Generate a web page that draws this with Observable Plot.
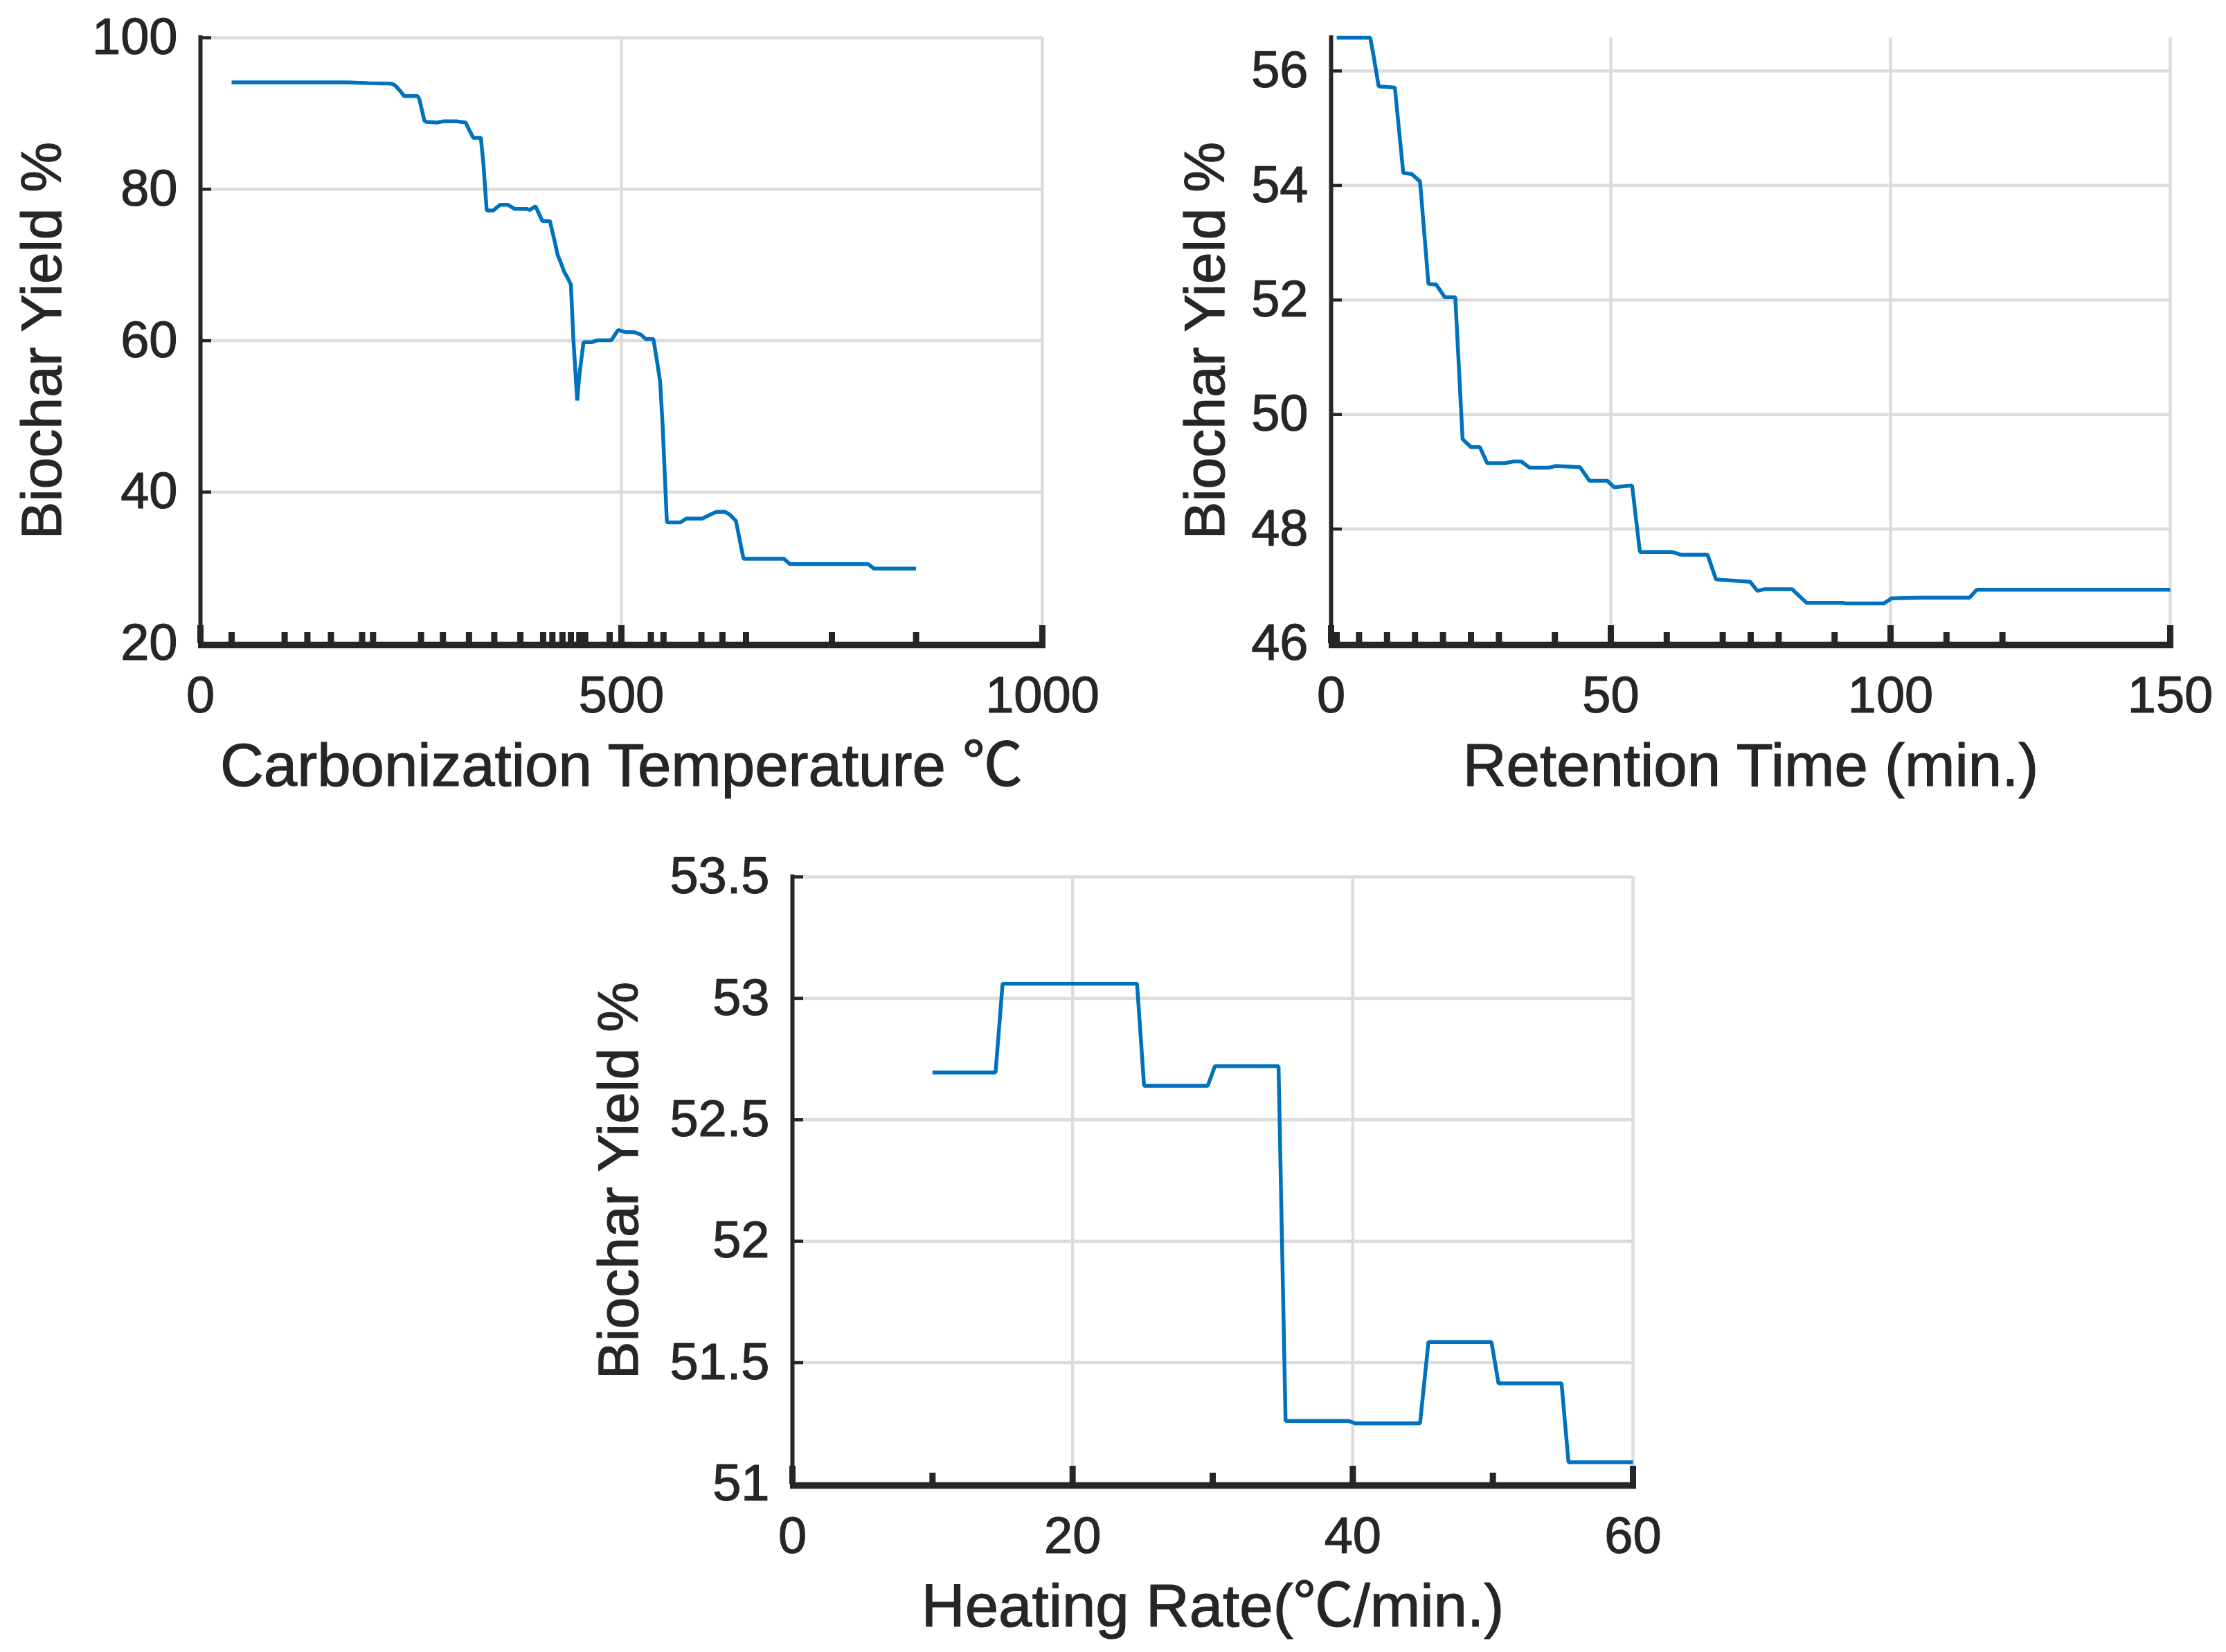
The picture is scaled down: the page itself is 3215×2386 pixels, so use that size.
<!DOCTYPE html>
<html>
<head>
<meta charset="utf-8">
<script src="https://cdn.jsdelivr.net/npm/d3@7"></script>
<script src="https://cdn.jsdelivr.net/npm/@observablehq/plot@0.6"></script>
<style>
  html, body { margin: 0; padding: 0; background: #ffffff; }
  #root { position: relative; width: 3215px; height: 2386px; overflow: hidden; background: #ffffff; }
  .panel { position: absolute; }
  .panel svg { overflow: visible; }
</style>
</head>
<body>
<div id="root"></div>
<script>
// ---------- Data ----------
// Panel 1: Carbonization temperature (°C) vs biochar yield (%)
const tempX = [37, 173, 200, 226, 230, 233, 237, 242, 258, 260, 266, 268, 281, 288, 305, 315, 320, 324, 333, 336,
  340, 348, 356, 365, 373, 388, 391, 398, 406, 415, 421, 424, 428, 432, 437, 440, 443, 447.5, 450, 455,
  465, 472, 488, 496, 504, 516, 523, 529, 538, 542, 546, 549, 554, 570, 577, 596, 606, 613, 623, 629,
  636, 645, 693, 700, 749, 793, 800, 850];
const tempY = [94.1, 94.1, 94.0, 93.95, 93.8, 93.5, 93.0, 92.3, 92.3, 91.9, 89.05, 88.9, 88.8, 88.95, 88.95, 88.8, 87.65, 86.8, 86.8, 83.5,
  77.2, 77.2, 77.95, 77.95, 77.4, 77.4, 77.25, 77.75, 75.8, 75.8, 73.0, 71.4, 70.3, 69.1, 68.1, 67.4, 60.1, 52.1, 55.4, 59.8,
  59.8, 60.05, 60.05, 61.4, 61.15, 61.1, 60.8, 60.2, 60.2, 57.5, 54.6, 48.7, 36.0, 36.0, 36.5, 36.5, 37.05, 37.4, 37.4, 37.0,
  36.2, 31.2, 31.2, 30.5, 30.5, 30.5, 29.9, 29.9];
const tempRug = [37, 100, 127, 155, 192, 205, 262, 288, 319, 349, 380, 407, 418, 430, 440, 450, 457, 486, 535, 550, 595, 620, 648, 750, 850];
const tempXTicks = [0, 500, 1000];
const tempYTicks = [20, 40, 60, 80, 100];

// Panel 2: Retention time (min.) vs biochar yield (%)
const timeX = [1, 7, 7.6, 8.5, 11.4, 12.9, 14.4, 15.9, 17.4, 18.8, 20.3, 22.2, 23.5, 25, 26.6, 27.9, 31.1, 32.5, 34, 35.5,
  38.9, 40.1, 44.5, 46.2, 49.4, 50.6, 52.6, 53.8, 55.2, 60.9, 62.6, 67.3, 68.8, 74.9, 76.2, 77.5, 82.4, 85, 91.5, 92,
  98.8, 100.2, 105.3, 114.1, 115.4, 150];
const timeY = [56.58, 56.58, 56.26, 55.73, 55.71, 54.22, 54.2, 54.07, 52.28, 52.27, 52.05, 52.05, 49.57, 49.43, 49.43, 49.15, 49.15, 49.18, 49.18, 49.07,
  49.07, 49.1, 49.08, 48.84, 48.84, 48.73, 48.75, 48.76, 47.6, 47.6, 47.55, 47.55, 47.12, 47.08, 46.92, 46.95, 46.95, 46.71, 46.71, 46.70,
  46.70, 46.79, 46.8, 46.8, 46.94, 46.94];
const timeRug = [1, 5, 10, 15, 20, 25, 30, 40, 60, 70, 75, 80, 90, 110, 120];
const timeXTicks = [0, 50, 100, 150];
const timeYTicks = [46, 48, 50, 52, 54, 56];

// Panel 3: Heating rate (°C/min.) vs biochar yield (%)
const rateX = [10, 14.5, 15, 24.6, 25.1, 29.65, 30.15, 34.7, 35.2, 39.7, 40.2, 44.8, 45.4, 49.9, 50.4, 54.9, 55.4, 60];
const rateY = [52.695, 52.695, 53.06, 53.06, 52.64, 52.64, 52.72, 52.72, 51.26, 51.26, 51.25, 51.25, 51.585, 51.585, 51.415, 51.415, 51.09, 51.09];
const rateRug = [10, 30, 50];
const rateXTicks = [0, 20, 40, 60];
const rateYTicks = [51, 51.5, 52, 52.5, 53, 53.5];

const yTitle = "Biochar Yield %";
const tempTitle = "Carbonization Temperature \u2103";
const timeTitle = "Retention Time (min.)";
const rateTitle = "Heating Rate(\u2103/min.)";

// ---------- Styling ----------
const INK = "#262626";
const BLUE = "#0072BD";
const GRID = "#dcdcdc";
const FONT = "'Liberation Sans', Arial, Helvetica, 'Noto Sans CJK SC', 'DejaVu Sans', sans-serif";
const TICK_FS = 74;
const XTITLE_FS = 87;
const YTITLE_FS = 82;
const TEXT_STROKE = 1.2;

function panel(cfg) {
  const {xs, ys, rug, xDomain, yDomain, xTicks, yTicks, xLabel, left, top, width, height,
         mL, mR, mT, mB, yTitleDx} = cfg;
  const fh = height - mT - mB;
  const fw = width - mL - mR;
  const data = xs.map((x, i) => ({x, y: ys[i]}));
  const textStyle = {fill: INK, stroke: INK, strokeWidth: TEXT_STROKE, lineAnchor: "middle"};
  const svg = Plot.plot({
    width, height,
    marginLeft: mL, marginRight: mR, marginTop: mT, marginBottom: mB,
    x: {domain: xDomain, axis: null},
    y: {domain: yDomain, axis: null},
    style: {fontFamily: FONT, color: INK, background: "transparent", overflow: "visible", maxWidth: "none"},
    marks: [
      Plot.gridX(xTicks, {x: d => d, stroke: GRID, strokeOpacity: 1, strokeWidth: 4.5}),
      Plot.gridY(yTicks, {y: d => d, stroke: GRID, strokeOpacity: 1, strokeWidth: 4.5}),
      Plot.line(data, {x: "x", y: "y", stroke: BLUE, strokeWidth: 5.5, strokeLinejoin: "miter", strokeLinecap: "butt"}),
      // left axis line
      Plot.ruleX([xDomain[0]], {x: d => d, stroke: INK, strokeWidth: 6, insetTop: -3}),
      // y ticks (inward)
      Plot.tickY(yTicks, {y: d => d, stroke: INK, strokeWidth: 4.5, insetRight: fw - 16}),
      // x major ticks (inward)
      Plot.tickX(xTicks, {x: d => d, stroke: INK, strokeWidth: 9, insetTop: fh - 26}),
      // x rug ticks
      Plot.tickX(rug, {x: d => d, stroke: INK, strokeWidth: 9, insetTop: fh - 16}),
      // bottom axis line
      Plot.ruleY([yDomain[0]], {y: d => d, stroke: INK, strokeWidth: 9.5, dy: 2, insetLeft: -3, insetRight: -5}),
      // tick labels
      Plot.text(xTicks, {x: d => d, frameAnchor: "bottom", dy: 76, text: d => String(d),
        fontSize: TICK_FS, textAnchor: "middle", ...textStyle}),
      Plot.text(yTicks, {y: d => d, frameAnchor: "left", dx: -33, text: d => String(d),
        fontSize: TICK_FS, textAnchor: "end", ...textStyle}),
      // axis titles
      Plot.text([xLabel], {frameAnchor: "bottom", dy: 178, text: d => d,
        fontSize: XTITLE_FS, textAnchor: "middle", ...textStyle}),
      Plot.text([yTitle], {frameAnchor: "left", dx: yTitleDx, text: d => d, rotate: -90,
        fontSize: YTITLE_FS, textAnchor: "middle", ...textStyle})
    ]
  });
  const div = document.createElement("div");
  div.className = "panel";
  div.style.left = left + "px";
  div.style.top = top + "px";
  div.style.width = width + "px";
  div.style.height = height + "px";
  div.appendChild(svg);
  document.getElementById("root").appendChild(div);
}

panel({xs: tempX, ys: tempY, rug: tempRug, xDomain: [0, 1000], yDomain: [20, 100],
  xTicks: tempXTicks, yTicks: tempYTicks, xLabel: tempTitle,
  left: 0, top: 0, width: 1620, height: 1180, mL: 289, mR: 115, mT: 54, mB: 251, yTitleDx: -228});

panel({xs: timeX, ys: timeY, rug: timeRug, xDomain: [0, 150], yDomain: [46, 56.58],
  xTicks: timeXTicks, yTicks: timeYTicks, xLabel: timeTitle,
  left: 1640, top: 0, width: 1575, height: 1180, mL: 282, mR: 81, mT: 54, mB: 251, yTitleDx: -181});

panel({xs: rateX, ys: rateY, rug: rateRug, xDomain: [0, 60], yDomain: [51, 53.5],
  xTicks: rateXTicks, yTicks: rateYTicks, xLabel: rateTitle,
  left: 860, top: 1180, width: 1600, height: 1206, mL: 284, mR: 102, mT: 86, mB: 243, yTitleDx: -250});
</script>
</body>
</html>
